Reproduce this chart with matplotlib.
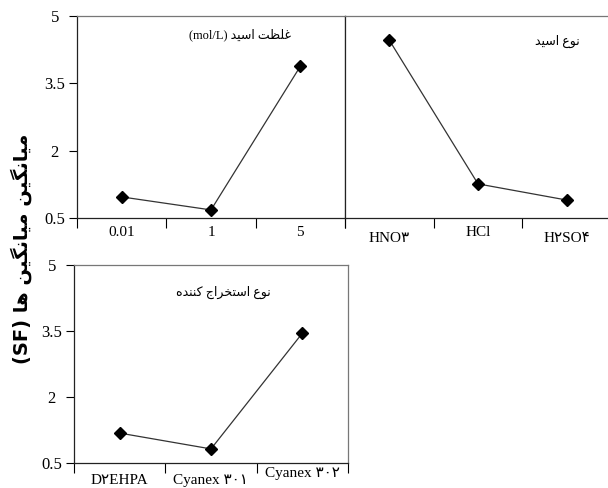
import matplotlib
matplotlib.use("Agg")
import matplotlib.pyplot as plt

# Persian text is pre-shaped (presentation forms) in visual order,
# since matplotlib does no Arabic shaping / bidi.
def vis(*codes):
    return "".join(chr(c) for c in reversed(codes))

W_GHELZAT = vis(0xFECF, 0xFEE0, 0xFEC8, 0xFE96)
W_ASID = vis(0xFE8D, 0xFEB3, 0xFEF4, 0xFEAA)
W_NOE = vis(0xFEE7, 0xFEEE, 0xFEC9)
W_ESTEKHRAJ = vis(0xFE8D, 0xFEB3, 0xFE98, 0xFEA8, 0xFEAE, 0xFE8D, 0xFE9D)
W_KONANDE = vis(0xFB90, 0xFEE8, 0xFEE8, 0xFEAA, 0xFEE9)
W_MIANGIN = vis(0xFEE3, 0xFEF4, 0xFE8E, 0xFEE7, 0xFB95, 0xFEF4, 0xFEE6)
W_HA = vis(0xFEEB, 0xFE8E)

titles = [
    "(mol/L) " + W_ASID + " " + W_GHELZAT,
    W_ASID + " " + W_NOE,
    W_KONANDE + " " + W_ESTEKHRAJ + " " + W_NOE,
]
ylabel = "(SF) " + W_HA + " " + W_MIANGIN + " " + W_MIANGIN

acid_conc = ["0.01", "1", "5"]
acid_conc_sf = [0.97, 0.68, 3.88]

acid_type = ["HNO\u06f3", "HCl", "H\u06f2SO\u06f4"]
acid_type_sf = [4.46, 1.26, 0.90]

extractant = ["D\u06f2EHPA", "Cyanex \u06f3\u06f0\u06f1", "Cyanex \u06f3\u06f0\u06f2"]
extractant_sf = [1.18, 0.82, 3.45]

yticks = [0.5, 2, 3.5, 5]

serif = ["Liberation Serif", "DejaVu Sans"]

fig = plt.figure(figsize=(6.08, 4.88), dpi=100)

ax1 = fig.add_axes([77/608, 1-218/488, 268/608, 202/488])
ax2 = fig.add_axes([345/608, 1-218/488, 266/608, 202/488])
ax3 = fig.add_axes([74/608, 1-463/488, 274/608, 198/488])

# label drop below axis (points) per category
panels = [
    (ax1, acid_conc, acid_conc_sf, titles[0], (0.61, 0.905), [6, 6, 6], True),
    (ax2, acid_type, acid_type_sf, titles[1], (0.80, 0.875), [10, 6, 10], False),
    (ax3, extractant, extractant_sf, titles[2], (0.545, 0.86), [8, 8, 3], True),
]

for ax, cats, vals, title, tpos, dy, show_y in panels:
    x = [i + 0.5 for i in range(len(cats))]
    ax.plot(x, vals, color="#333333", lw=0.9, marker="D", ms=6,
            mfc="black", mec="black")
    ax.set_xlim(0, 3)
    ax.set_ylim(0.5, 5)
    ax.set_xticks([0, 1, 2, 3])
    ax.set_xticklabels([])
    ax.tick_params(axis="x", direction="out", length=7, width=0.8)
    if show_y:
        ax.set_yticks(yticks)
        ax.set_yticklabels([f"{t:g}" for t in yticks], family=serif,
                           fontsize=12, ha="center")
        ax.tick_params(axis="y", direction="out", length=6, width=0.8, pad=10)
    else:
        ax.set_yticks([])
    for xi, c, d in zip(x, cats, dy):
        ax.annotate(c, (xi, 0), xycoords=("data", "axes fraction"),
                    xytext=(0, -d), textcoords="offset points",
                    ha="center", va="top", fontsize=11, family=serif)
    ax.text(tpos[0], tpos[1], title, transform=ax.transAxes, ha="center",
            va="center", fontsize=9, family=serif)
    for s in ["top", "right"]:
        ax.spines[s].set_color("#777777")
        ax.spines[s].set_linewidth(0.9)
    for s in ["left", "bottom"]:
        ax.spines[s].set_color("#222222")
        ax.spines[s].set_linewidth(0.9)

fig.text(0.035, 0.49, ylabel, rotation=90, ha="center", va="center",
         fontsize=14, fontweight="bold", family="DejaVu Sans")

fig.savefig("out.png", dpi=100)
